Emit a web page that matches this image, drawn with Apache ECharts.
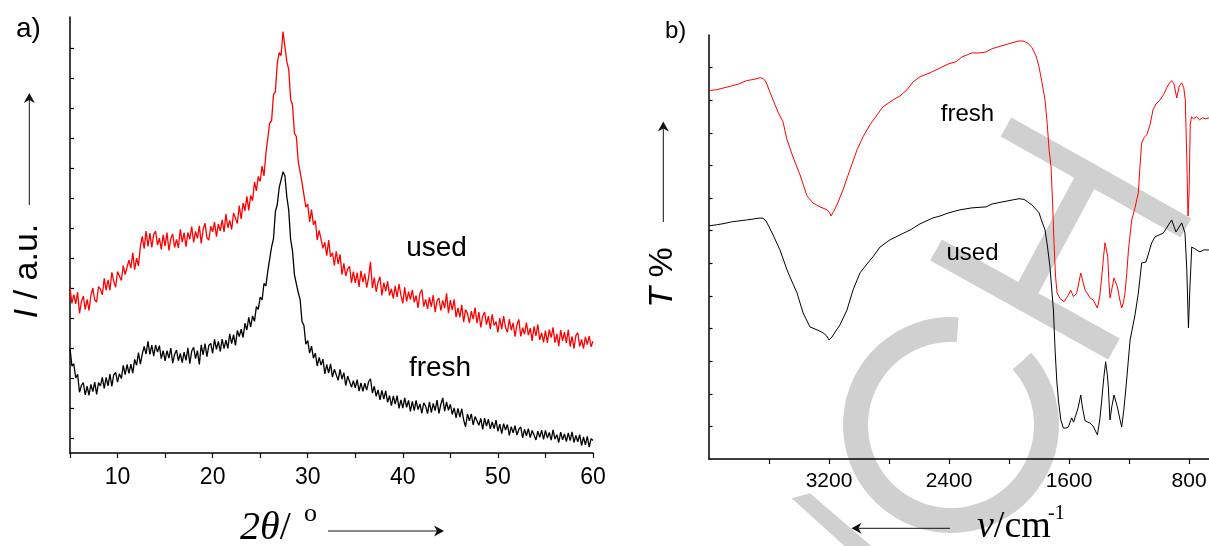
<!DOCTYPE html>
<html>
<head>
<meta charset="utf-8">
<title>XRD and FTIR of fresh and used catalyst</title>
<script src="https://cdn.jsdelivr.net/npm/echarts@6.0.0/dist/echarts.min.js"></script>
<style>
  html, body { margin: 0; padding: 0; background: #ffffff; }
  #chart { width: 1209px; height: 546px; }
</style>
</head>
<body>
<div id="chart"></div>
<script>
// ---------- a) XRD patterns, 2θ from 5° to 60° in 0.2° steps ----------
const twoThetaStart = 5;
const twoThetaStep = 0.2;

const usedIntensity = [
  11.0, 9.98, 10.56, 9.94, 10.72, 9.3, 10.08, 10.46, 9.58, 10.24,
  9.5, 10.5, 11.0, 10.2, 10.06, 11.1, 10.92, 10.54, 11.65, 10.85,
  11.55, 10.85, 12.05, 11.45, 11.05, 12.1, 12.0, 11.5, 12.5, 11.9,
  11.8, 12.86, 12.32, 13.34, 12.22, 13.0, 12.48, 13.76, 14.44, 13.62,
  14.8, 13.78, 14.66, 13.7, 14.56, 14.8, 13.86, 14.32, 13.58, 14.54,
  13.8, 14.7, 13.5, 14.3, 14.6, 13.7, 14.24, 13.68, 14.92, 14.06,
  14.7, 13.75, 14.7, 14.25, 15.1, 14.05, 14.78, 14.31, 15.14, 13.97,
  14.9, 15.33, 14.36, 14.19, 15.12, 14.75, 15.39, 14.43, 15.27, 14.81,
  15.55, 14.74, 15.93, 15.02, 15.51, 14.9, 16.0, 15.9, 15.3, 16.5,
  15.6, 16.67, 16.14, 17.11, 16.18, 17.17, 16.82, 18.07, 17.48, 18.44,
  18.1, 19.13, 18.47, 19.97, 19.97, 22.0, 22.15, 23.9, 24.1, 26.0,
  26.7, 26.5, 28.1, 28.1, 26.1, 25.6, 23.6, 23.2, 21.33, 21.1,
  19.45, 19.53, 18.03, 18.13, 16.4, 16.6, 15.4, 16.23, 15.2, 15.5,
  14.2, 14.85, 14.8, 13.65, 14.05, 13.15, 14.2, 13.08, 13.35, 12.5,
  13.45, 12.6, 13.25, 11.9, 12.65, 11.8, 12.27, 12.44, 11.35, 12.1,
  11.35, 12.02, 11.08, 12.14, 11.4, 11.96, 11.03, 11.7, 12.75, 11.0,
  11.7, 10.75, 11.4, 11.75, 10.5, 11.35, 10.8, 11.45, 10.5, 10.95,
  10.3, 11.15, 10.4, 11.26, 10.52, 9.98, 11.04, 10.1, 10.76, 10.22,
  10.88, 10.04, 10.5, 9.67, 10.64, 10.9, 9.77, 10.24, 9.61, 10.38,
  9.75, 10.52, 9.39, 10.16, 10.33, 9.5, 10.18, 9.66, 10.64, 9.32,
  10.2, 9.52, 10.24, 9.06, 9.68, 9.05, 9.88, 8.72, 9.56, 9.3,
  8.68, 9.45, 8.92, 9.69, 8.65, 9.4, 8.37, 9.14, 9.4, 8.56,
  9.12, 8.28, 9.24, 8.5, 8.76, 8.04, 9.0, 8.26, 9.12, 8.38,
  8.05, 8.92, 8.2, 8.68, 7.76, 8.54, 8.91, 7.78, 8.35, 7.92,
  8.7, 7.86, 8.32, 7.48, 8.44, 7.8, 8.57, 7.54, 8.01, 7.38,
  8.16, 7.34, 8.22, 7.7, 8.38, 7.36, 7.94, 7.12, 8.2, 7.48,
  8.06, 7.34, 8.22, 7.1, 7.78, 6.96, 7.84, 8.02, 7.1, 7.58,
  6.96, 7.74, 7.22, 7.8, 7.08, 7.46
];

const freshIntensity = [
  7.0, 5.8, 5.95, 5.0, 5.25, 4.05, 4.5, 4.7, 3.87, 4.45,
  3.85, 4.57, 4.09, 4.73, 3.91, 4.7, 4.47, 5.04, 4.3, 5.04,
  4.48, 5.26, 4.44, 5.22, 5.37, 4.72, 5.29, 4.96, 5.84, 5.22,
  5.9, 5.31, 5.92, 5.33, 6.24, 5.85, 6.69, 5.93, 6.6, 7.1,
  6.6, 7.44, 6.58, 7.2, 6.46, 7.2, 6.73, 7.16, 6.29, 6.82,
  6.15, 6.83, 6.32, 7.0, 5.99, 6.57, 6.86, 6.15, 6.64, 6.03,
  6.72, 6.17, 7.01, 5.96, 6.8, 7.05, 6.29, 6.83, 5.9, 7.21,
  6.55, 7.29, 6.43, 7.17, 7.31, 6.65, 7.58, 6.91, 7.44, 6.77,
  7.6, 6.96, 7.52, 6.98, 7.94, 7.3, 7.89, 7.18, 8.17, 7.76,
  8.25, 7.7, 8.65, 8.2, 9.05, 8.4, 9.14, 8.78, 9.76, 9.58,
  10.4, 10.2, 11.3, 11.14, 12.12, 12.0, 13.75, 14.3, 16.1, 16.57,
  17.7, 17.67, 18.75, 18.47, 17.1, 16.2, 14.24, 13.48, 11.9, 11.9,
  10.7, 10.23, 8.77, 8.5, 7.25, 7.5, 6.66, 7.12, 6.32, 6.66,
  5.8, 6.38, 5.86, 6.26, 5.28, 5.9, 5.32, 5.94, 5.06, 5.58,
  5.6, 4.84, 5.58, 4.92, 5.36, 4.5, 5.13, 5.16, 4.39, 4.82,
  4.35, 4.89, 4.13, 4.67, 4.11, 4.65, 4.2, 4.75, 4.95, 4.0,
  4.45, 3.78, 4.21, 3.54, 4.17, 3.6, 4.14, 3.38, 3.82, 3.16,
  3.8, 3.26, 3.82, 2.98, 3.54, 3.0, 3.67, 3.04, 3.51, 2.78,
  3.45, 2.83, 3.51, 2.89, 3.27, 2.65, 3.34, 3.13, 2.62, 3.41,
  2.7, 3.31, 2.82, 3.53, 2.64, 3.25, 3.67, 2.79, 3.4, 2.85,
  3.25, 2.58, 3.01, 2.34, 2.97, 2.4, 2.95, 2.2, 1.75, 2.6,
  2.15, 2.61, 1.87, 2.43, 2.49, 1.85, 2.31, 1.57, 2.33, 1.79,
  2.25, 1.61, 2.07, 1.63, 2.19, 1.45, 1.92, 1.29, 1.96, 1.53,
  1.9, 1.18, 1.76, 1.34, 1.82, 1.2, 1.57, 1.74, 1.01, 1.58,
  1.15, 1.63, 1.02, 1.5, 1.59, 0.87, 1.46, 1.04, 1.53, 0.91,
  1.5, 0.99, 1.37, 0.86, 1.54, 0.93, 1.22, 0.7, 1.39, 0.88,
  1.27, 0.76, 1.34, 0.83, 1.41, 0.7, 1.17, 0.75, 1.22, 0.5,
  1.07, 0.54, 1.11, 0.39, 0.96, 0.83
];

const xrdTickValues = [5, 10, 15, 20, 25, 30, 35, 40, 45, 50, 55, 60];
const xrdLabelValues = [10, 20, 30, 40, 50, 60];
const xrdIntensityTicks = [1, 3, 5, 7, 9, 11, 13, 15, 17, 19, 21, 23, 25, 27];

// ---------- b) FTIR spectra (wavenumber / cm-1, transmittance in a.u.) ----------
const freshWavenumber = [
  4000, 3950, 3900, 3850, 3800, 3750, 3700, 3660, 3640, 3620, 3600, 3573, 3540, 3507,
  3480, 3440, 3393, 3347, 3307, 3260, 3213, 3195, 3187, 3170, 3147, 3107, 3060, 3013,
  2973, 2927, 2880, 2840, 2773, 2727, 2680, 2640, 2593, 2527, 2460, 2400, 2353, 2313,
  2247, 2200, 2153, 2113, 2047, 1980, 1933, 1900, 1870, 1847, 1820, 1800, 1780, 1760,
  1745, 1733, 1720, 1710, 1700, 1690, 1680, 1660, 1633, 1615, 1604, 1589, 1571, 1549,
  1535, 1522, 1508, 1493, 1460, 1440, 1425, 1411, 1395, 1382, 1370, 1360, 1342, 1335,
  1327, 1315, 1300, 1278, 1260, 1249, 1237, 1227, 1215, 1204, 1182, 1160, 1149, 1138,
  1128, 1116, 1100, 1082, 1060, 1040, 1020, 993, 970, 949, 930, 916, 900, 882,
  865, 849, 835, 825, 815, 807, 800, 792, 784, 770, 750, 730, 710, 690, 667
];
const freshTransmittance = [
  11.30, 11.32, 11.38, 11.44, 11.50, 11.60, 11.64, 11.69, 11.67, 11.56, 11.32, 11.01, 10.64, 10.34,
  9.79, 9.26, 8.71, 8.07, 7.85, 7.73, 7.64, 7.55, 7.45, 7.58, 7.79, 8.25, 8.87, 9.48,
  9.88, 10.25, 10.55, 10.80, 11.01, 11.13, 11.32, 11.56, 11.72, 11.84, 11.99, 12.12, 12.18, 12.33,
  12.45, 12.45, 12.48, 12.58, 12.67, 12.76, 12.82, 12.81, 12.73, 12.61, 12.36, 12.02, 11.53, 11.01,
  10.25, 9.48, 8.96, 7.9, 6.6, 5.6, 5.1, 4.92, 4.82, 4.95, 5.03, 5.18, 4.98, 5.08,
  5.4, 5.70, 5.45, 5.18, 4.94, 4.88, 4.75, 4.63, 5.0, 5.58, 6.2, 6.63, 6.20, 5.5,
  4.94, 5.2, 5.55, 5.28, 4.85, 4.63, 4.8, 5.09, 5.7, 6.41, 7.33, 7.70, 7.94, 8.16,
  8.9, 9.69, 9.85, 9.94, 10.25, 10.71, 10.89, 11.01, 11.17, 11.38, 11.53, 11.60, 11.50, 11.07,
  11.44, 11.53, 11.38, 11.01, 9.17, 7.45, 8.13, 10.25, 10.49, 10.43, 10.49, 10.40, 10.46, 10.43, 10.46
];

const usedWavenumber = [
  4000, 3950, 3900, 3850, 3800, 3750, 3700, 3660, 3640, 3620, 3600, 3573, 3527, 3480,
  3460, 3413, 3373, 3327, 3280, 3240, 3215, 3200, 3180, 3150, 3127, 3080, 3040, 2993,
  2947, 2907, 2860, 2793, 2727, 2660, 2593, 2507, 2460, 2400, 2327, 2247, 2153, 2113,
  2047, 1980, 1933, 1900, 1887, 1847, 1800, 1780, 1760, 1745, 1727, 1715, 1704, 1693,
  1682, 1671, 1655, 1638, 1620, 1604, 1590, 1582, 1570, 1560, 1540, 1522, 1510, 1493,
  1460, 1440, 1411, 1395, 1382, 1368, 1356, 1345, 1338, 1327, 1315, 1300, 1278, 1260,
  1249, 1235, 1220, 1193, 1160, 1138, 1116, 1087, 1049, 1027, 971, 916, 887, 849,
  827, 815, 804, 795, 782, 760, 727, 704, 667
];
const usedTransmittance = [
  7.15, 7.18, 7.22, 7.27, 7.30, 7.33, 7.36, 7.39, 7.38, 7.30, 7.12, 6.87, 6.41, 5.80,
  5.58, 5.09, 4.48, 4.05, 3.96, 3.87, 3.77, 3.65, 3.74, 3.96, 4.11, 4.57, 5.18, 5.71,
  5.98, 6.20, 6.50, 6.72, 6.87, 7.02, 7.21, 7.39, 7.45, 7.55, 7.64, 7.70, 7.73, 7.82,
  7.88, 7.94, 7.98, 7.96, 7.91, 7.79, 7.55, 7.27, 7.02, 6.56, 5.89, 5.18, 4.57, 3.34,
  2.42, 1.81, 1.20, 0.95, 0.95, 0.98, 1.17, 1.26, 1.13, 1.17, 1.56, 1.96, 1.56, 1.17,
  1.10, 1.01, 0.74, 1.20, 1.81, 2.5, 2.98, 2.6, 2.21, 1.20, 1.6, 1.96, 1.60, 1.2,
  0.98, 1.5, 2.21, 3.65, 4.42, 5.09, 6.01, 6.04, 6.63, 6.81, 6.93, 7.33, 6.96, 7.24,
  6.93, 5.80, 4.02, 5.18, 6.50, 6.44, 6.35, 6.41, 6.41
];

const ftirTickValues = [3600, 3200, 2800, 2400, 2000, 1600, 1200, 800];
const ftirLabelValues = [3200, 2400, 1600, 800];
const ftirTransmittanceTicks = [1, 2, 3, 4, 5, 6, 7, 8, 9, 10, 11, 12];

// ---------- helpers ----------
const SANS = '"Liberation Sans", Arial, Helvetica, sans-serif';
const SERIF = '"Liberation Serif", "Times New Roman", serif';
const WATERMARK = '#d0d0d0';

function pairsFromGrid(values) {
  return values.map((v, i) => [+(twoThetaStart + i * twoThetaStep).toFixed(1), v]);
}
function pairs(xs, ys) {
  return xs.map((x, i) => [x, ys[i]]);
}

function lineSeries(name, data, color, xi, width) {
  return {
    name: name,
    type: 'line',
    xAxisIndex: xi,
    yAxisIndex: xi,
    data: data,
    showSymbol: false,
    symbol: 'none',
    silent: true,
    z: 3,
    lineStyle: { color: color, width: width }
  };
}

function label(text, x, y, size, opts) {
  opts = opts || {};
  return {
    type: 'text',
    z: 20,
    x: x,
    y: y,
    rotation: opts.rotation || 0,
    silent: true,
    style: {
      x: 0, y: 0,
      text: text,
      fill: '#000',
      fontSize: size,
      fontFamily: opts.family || SANS,
      fontStyle: opts.italic ? 'italic' : 'normal',
      align: opts.align || 'left',
      textAlign: opts.align || 'left',
      verticalAlign: 'middle',
      textVerticalAlign: 'middle',
      rich: opts.rich
    }
  };
}

function arrow(x1, y1, x2, y2) {
  // straight shaft with a swept arrow head at (x2, y2)
  const dx = x2 - x1, dy = y2 - y1;
  const len = Math.sqrt(dx * dx + dy * dy);
  const ux = dx / len, uy = dy / len;
  const px = -uy, py = ux;
  const head = 10, half = 5.5, notch = 7;
  return [
    { type: 'line', z: 20, silent: true,
      shape: { x1: x1, y1: y1, x2: x2 - ux * notch, y2: y2 - uy * notch },
      style: { stroke: '#111', lineWidth: 1 } },
    { type: 'polygon', z: 20, silent: true,
      shape: { points: [
        [x2, y2],
        [x2 - ux * head + px * half, y2 - uy * head + py * half],
        [x2 - ux * notch, y2 - uy * notch],
        [x2 - ux * head - px * half, y2 - uy * head - py * half]
      ] },
      style: { fill: '#111' } }
  ];
}

function bar(x1, y1, x2, y2, w) {
  return { type: 'line', z: -5, silent: true,
    shape: { x1: x1, y1: y1, x2: x2, y2: y2 },
    style: { stroke: WATERMARK, lineWidth: w, lineCap: 'butt' } };
}

const deg = Math.PI / 180;

const graphics = [
  // publisher watermark strokes, behind everything
  { type: 'arc', z: -5, silent: true,
    shape: { cx: 951, cy: 425, r: 95.5, startAngle: -42 * deg, endAngle: 274 * deg, clockwise: true },
    style: { stroke: WATERMARK, lineWidth: 25, fill: 'none', lineCap: 'butt' } },
  bar(1006, 127, 1186, 228, 22),
  bar(936, 250, 1114, 349, 24),
  bar(1085, 182, 1026, 292, 23),
  { type: 'polygon', z: -5, silent: true,
    shape: { points: [[791.7, 498.3], [810, 493.3], [887.6, 560], [859.9, 560]] },
    style: { fill: WATERMARK } },

  // panel tags
  label('a)', 16, 29.5, 28),
  label('b)', 665, 31.5, 24),

  // panel a: titles
  label('{i|I} / a.u.', 27.5, 271, 34, {
    rotation: Math.PI / 2, align: 'center',
    rich: { i: { fontStyle: 'italic', fontSize: 34, fontFamily: SANS } }
  }),
  label('{i|2θ}{n|/}', 240, 528.5, 40, {
    family: SERIF,
    rich: {
      i: { fontStyle: 'italic', fontSize: 40, fontFamily: SERIF },
      n: { fontSize: 40, fontFamily: SERIF }
    }
  }),
  label('o', 304, 514.5, 26, { family: SERIF }),
  label('used', 436.5, 248.3, 28, { align: 'center' }),
  label('fresh', 440, 368.3, 28, { align: 'center' }),

  // panel b: titles
  label('{i|T} %', 663, 277.5, 34, {
    rotation: Math.PI / 2, align: 'center',
    rich: { i: { fontStyle: 'italic', fontSize: 34, fontFamily: SANS } }
  }),
  label('{i|ν}{n|/cm}', 977, 527.2, 38, {
    family: SERIF,
    rich: {
      i: { fontStyle: 'italic', fontSize: 38, fontFamily: SERIF },
      n: { fontSize: 38, fontFamily: SERIF }
    }
  }),
  label('-1', 1048, 513.3, 20, { family: SERIF }),
  label('fresh', 967.5, 114.7, 24, { align: 'center' }),
  label('used', 972.5, 253.7, 24, { align: 'center' })
]
  .concat(arrow(29.3, 205, 29.3, 93))
  .concat(arrow(328, 531, 444, 531))
  .concat(arrow(663.3, 222, 663.3, 121.5))
  .concat(arrow(950, 528.3, 851.5, 528.3));

const axisBlack = { color: '#000', width: 1.5 };

const option = {
  animation: false,
  backgroundColor: '#ffffff',
  grid: [
    { left: 70, top: 17, width: 523, height: 436, containLabel: false, outerBoundsMode: 'none' },
    { left: 709, top: 35, width: 500, height: 424, containLabel: false, outerBoundsMode: 'none' }
  ],
  xAxis: [
    {
      gridIndex: 0, type: 'value', min: 5, max: 60,
      axisLine: { show: true, onZero: false, lineStyle: axisBlack },
      axisTick: { show: true, inside: false, length: 5, customValues: xrdTickValues,
        lineStyle: { color: '#000', width: 1.2 } },
      axisLabel: { show: true, customValues: xrdLabelValues, margin: 13,
        fontSize: 23, fontFamily: SANS, color: '#000',
        formatter: v => String(v) },
      splitLine: { show: false }
    },
    {
      gridIndex: 1, type: 'value', min: 667, max: 4000, inverse: true,
      axisLine: { show: true, onZero: false, lineStyle: axisBlack },
      axisTick: { show: true, inside: false, length: 5, customValues: ftirTickValues,
        lineStyle: { color: '#000', width: 1.2 } },
      axisLabel: { show: true, customValues: ftirLabelValues, margin: 12,
        fontSize: 21, fontFamily: SANS, color: '#000',
        formatter: v => String(v) },
      splitLine: { show: false }
    }
  ],
  yAxis: [
    {
      gridIndex: 0, type: 'value', min: 0, max: 29.07,
      axisLine: { show: true, onZero: false, lineStyle: axisBlack },
      axisTick: { show: true, inside: true, length: 4, customValues: xrdIntensityTicks,
        lineStyle: { color: '#000', width: 1.2 } },
      axisLabel: { show: false },
      splitLine: { show: false }
    },
    {
      gridIndex: 1, type: 'value', min: 0, max: 13,
      axisLine: { show: true, onZero: false, lineStyle: axisBlack },
      axisTick: { show: true, inside: true, length: 3.5, customValues: ftirTransmittanceTicks,
        lineStyle: { color: '#000', width: 1.2 } },
      axisLabel: { show: false },
      splitLine: { show: false }
    }
  ],
  series: [
    lineSeries('fresh', pairsFromGrid(freshIntensity), '#000000', 0, 1.3),
    lineSeries('used', pairsFromGrid(usedIntensity), '#ff0000', 0, 1.3),
    lineSeries('used', pairs(usedWavenumber, usedTransmittance), '#000000', 1, 1),
    lineSeries('fresh', pairs(freshWavenumber, freshTransmittance), '#ff0000', 1, 1)
  ],
  graphic: graphics
};

const chart = echarts.init(document.getElementById('chart'), null, { renderer: 'canvas' });
chart.setOption(option);
</script>
</body>
</html>
